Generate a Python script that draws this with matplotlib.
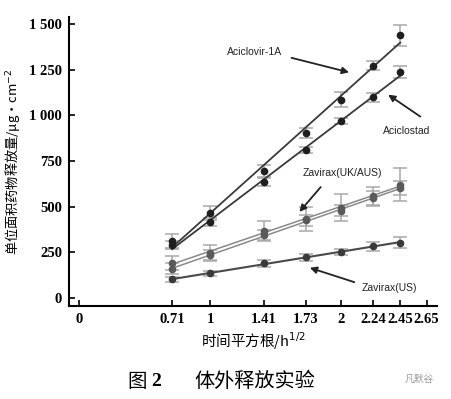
import numpy as np
import matplotlib.pyplot as plt

plt.rcParams['font.family'] = ['Noto Sans CJK SC', 'DejaVu Sans']

# square root of time (h^1/2)
x = [0.71, 1, 1.41, 1.73, 2, 2.24, 2.45]
xticks = [0, 0.71, 1, 1.41, 1.73, 2, 2.24, 2.45, 2.65]
yticks = [0, 250, 500, 750, 1000, 1250, 1500]
ytick_labels = ['0', '250', '500', '750', '1 000', '1 250', '1 500']

# cumulative release per area (ug/cm2)
aciclovir_1a = [312, 466, 696, 903, 1087, 1273, 1438]
aciclovir_1a_err = [40, 40, 33, 28, 42, 27, 57]
aciclostad = [290, 417, 636, 810, 970, 1099, 1238]
aciclostad_err = [20, 20, 20, 15, 15, 25, 33]
zavirax_uk = [191, 248, 366, 432, 494, 560, 620]
zavirax_uk_err = [40, 40, 55, 65, 75, 50, 90]
zavirax_aus = [159, 235, 345, 425, 477, 545, 602]
zavirax_aus_err = [30, 30, 30, 30, 30, 40, 40]
zavirax_us = [102, 135, 190, 223, 253, 284, 303]
zavirax_us_err = [12, 12, 18, 18, 18, 25, 30]

fig = plt.figure(figsize=(4.51, 3.99), dpi=100)
ax = fig.add_axes([0.153, 0.233, 0.816, 0.724])

xa = np.array(x)


def draw(vals, errs, line_c, mark_c, lw):
    fit = np.polyfit(xa, vals, 1)
    ax.plot(xa, np.polyval(fit, xa), '-', color=line_c, lw=lw, zorder=2)
    ax.errorbar(xa, vals, yerr=errs, fmt='none', ecolor='#a8a8a8',
                elinewidth=1.1, capsize=5, capthick=1.1, zorder=1)
    ax.plot(xa, vals, 'o', color=mark_c, ms=4.5, zorder=3)


draw(aciclovir_1a, aciclovir_1a_err, '#3a3a3a', '#1e1e1e', 1.3)
draw(aciclostad, aciclostad_err, '#3a3a3a', '#1e1e1e', 1.3)
draw(zavirax_uk, zavirax_uk_err, '#8a8a8a', '#5a5a5a', 1.1)
draw(zavirax_aus, zavirax_aus_err, '#8a8a8a', '#5a5a5a', 1.1)
draw(zavirax_us, zavirax_us_err, '#4a4a4a', '#3a3a3a', 1.5)

ax.set_xlim(-0.076, 2.73)
ax.set_ylim(-44, 1538)
ax.spines['top'].set_visible(False)
ax.spines['right'].set_visible(False)
ax.spines['left'].set_linewidth(1.5)
ax.spines['bottom'].set_linewidth(1.5)

ax.set_xticks(xticks)
ax.set_xticklabels([f'{t:g}' for t in xticks])
ax.set_yticks(yticks)
ax.set_yticklabels(ytick_labels)
ax.tick_params(direction='in', length=4, width=1.2, pad=5)
for lab in ax.get_xticklabels() + ax.get_yticklabels():
    lab.set_family('Liberation Serif')
    lab.set_weight('bold')
    lab.set_fontsize(10.5)

ax.set_xlabel('时间平方根/h$^{1/2}$', fontsize=10.5, labelpad=3)
ax.set_ylabel('单位面积药物释放量/μg·cm$^{-2}$', fontsize=9.5, labelpad=5)

arrow = dict(arrowstyle='-|>', color='#222222', lw=1.3, mutation_scale=10)
ann_font = dict(fontsize=7.5, family='Liberation Sans', color='#222222')
ax.annotate('', xy=(2.08, 1232), xytext=(1.60, 1319), arrowprops=arrow)
ax.text(1.55, 1347, 'Aciclovir-1A', ha='right', va='center', **ann_font)
ax.annotate('', xy=(2.34, 1122), xytext=(2.62, 985), arrowprops=arrow)
ax.text(2.50, 914, 'Aciclostad', ha='center', va='center', **ann_font)
ax.annotate('', xy=(1.667, 460), xytext=(1.857, 619), arrowprops=arrow)
ax.text(2.01, 684, 'Zavirax(UK/AUS)', ha='center', va='center', **ann_font)
ax.annotate('', xy=(1.74, 170), xytext=(2.12, 82), arrowprops=arrow)
ax.text(2.37, 55, 'Zavirax(US)', ha='center', va='center', **ann_font)

fig.text(0.305, 0.043, '图', fontsize=14, ha='center', va='center')
fig.text(0.345, 0.043, '2', fontsize=14, ha='center', va='center',
         family='Liberation Serif', weight='bold')
fig.text(0.565, 0.043, '体外释放实验', fontsize=14.5, ha='center', va='center')
fig.text(0.93, 0.052, '凡默谷', fontsize=7, ha='center', va='center', color='#9a9a9a')

fig.savefig('out.png', dpi=100)
